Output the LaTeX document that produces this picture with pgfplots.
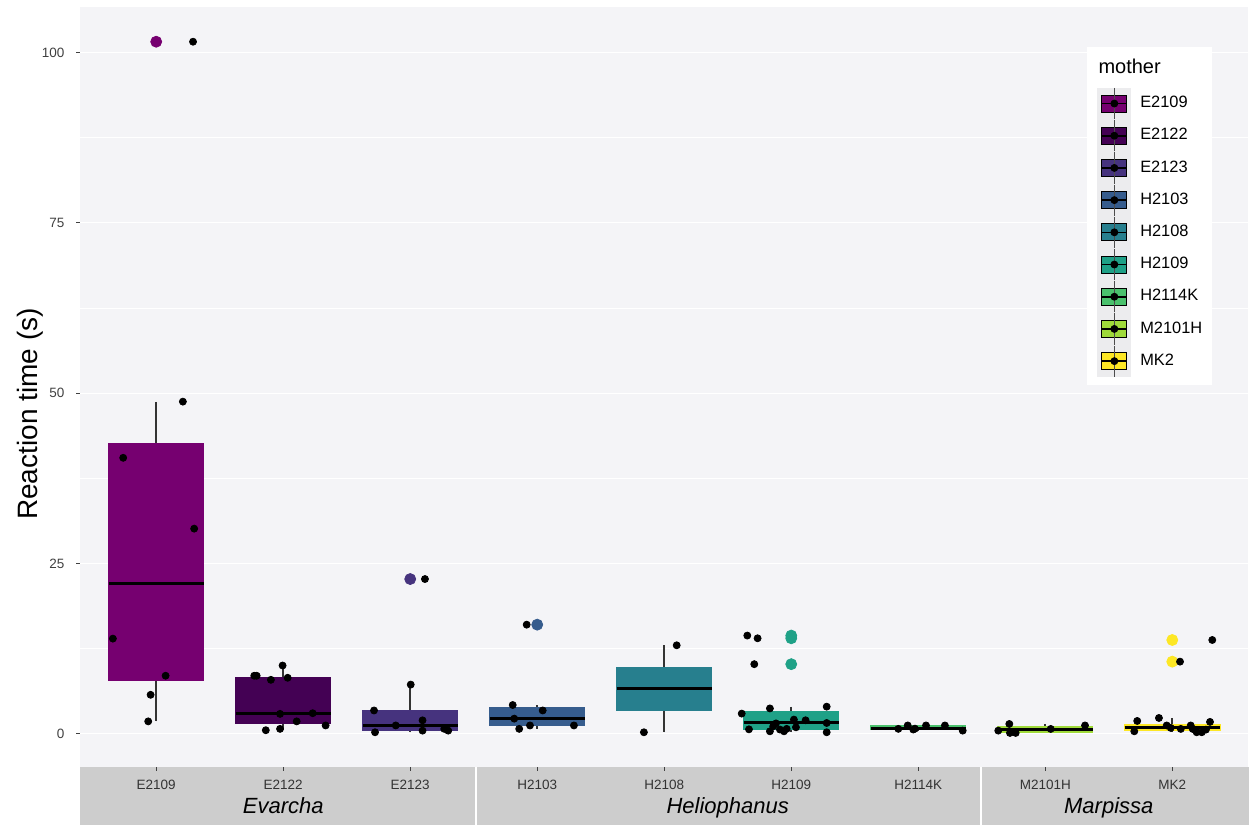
\documentclass[border=0pt]{standalone}
\usepackage{fontspec}
\setmainfont{Liberation Sans}
\usepackage{pgfplots}
\pgfplotsset{compat=1.18}
\usepgfplotslibrary{statistics}

% viridis-like fill per mother
\definecolor{cE2109}{RGB}{118,0,112}
\definecolor{cE2122}{RGB}{68,1,84}
\definecolor{cE2123}{RGB}{70,51,126}
\definecolor{cH2103}{RGB}{54,92,141}
\definecolor{cH2108}{RGB}{39,127,142}
\definecolor{cH2109}{RGB}{31,161,135}
\definecolor{cH2114K}{RGB}{74,193,109}
\definecolor{cM2101H}{RGB}{159,218,58}
\definecolor{cMK2}{RGB}{253,231,37}
\definecolor{panelbg}{RGB}{244,244,247}
\definecolor{stripbg}{RGB}{205,205,205}
\definecolor{keybg}{RGB}{236,236,238}

\pgfplotsset{
  mbox/.style={
    forget plot,
    boxplot/draw direction=y,
    boxplot/box extend=0.75,
    boxplot/whisker extend=0,
    boxplot/every whisker/.style={draw=black!80,line width=0.8pt},
    boxplot/every median/.style={draw=black,line width=1.6pt},
  },
  outl/.style={forget plot,only marks,mark=*,mark size=2.75pt},
  pts/.style={forget plot,only marks,mark=*,mark size=1.75pt,black},
  keyimg/.style={legend image code/.code={
      \fill[keybg] (0pt,-7.8pt) rectangle (16.5pt,7.8pt);
      \fill (2pt,-4.25pt) rectangle (14.4pt,4.25pt);
      \draw[black!70,line width=0.5pt] (8.25pt,-7.8pt) -- (8.25pt,7.8pt);
      \draw[black,line width=0.8pt] (2pt,0pt) -- (14.4pt,0pt);
      \fill[black] (8.25pt,0pt) circle (1.75pt);
  }},
}

\begin{document}
\begin{tikzpicture}
\fill[white] (0,0) rectangle (624.5pt,412.5pt);
\useasboundingbox (0,0) rectangle (624.5pt,412.5pt);
% genus strips under the panel
\fill[stripbg] (40pt,0pt) rectangle (237.65pt,29pt);
\fill[stripbg] (238.5pt,0pt) rectangle (490.15pt,29pt);
\fill[stripbg] (491pt,0pt) rectangle (624.5pt,29pt);

\begin{axis}[
  at={(40pt,29pt)}, anchor=south west,
  scale only axis, width=584.25pt, height=380pt,
  xmin=-0.6, xmax=8.6, ymin=-4.9, ymax=106.7,
  clip mode=individual,
  axis background/.style={fill=panelbg},
  axis line style={draw=none},
  xtick pos=bottom, ytick pos=left,
  xtick={0,1,2,3,4,5,6,7,8},
  xticklabels={E2109,E2122,E2123,H2103,H2108,H2109,H2114K,M2101H,MK2},
  ytick={0,25,50,75,100},
  minor ytick={12.5,37.5,62.5,87.5},
  ymajorgrids, yminorgrids,
  major grid style={white,line width=0.6pt},
  minor grid style={white,line width=0.3pt},
  tick align=outside, major tick length=2pt, minor tick length=0pt,
  tick style={draw=black!75,line width=0.5pt},
  x tick label style={font=\fontsize{6.75}{8}\selectfont,text=black!80,anchor=base,yshift=-9.3pt},
  y tick label style={font=\fontsize{6.75}{8}\selectfont,text=black!75,anchor=east,xshift=-2.25pt},
  /pgf/number format/assume math mode=true,
  ylabel={Reaction time (s)},
  ylabel style={font=\fontsize{14}{16}\selectfont,at={(axis description cs:-0.0428,0.4645)},anchor=center},
  legend style={at={(axis description cs:0.8704,0.8947)},anchor=north west,
    draw=none,fill=none,inner sep=0pt,row sep=0pt,column sep=4.5pt,
    nodes={inner sep=0pt},font=\fontsize{8.2}{9}\selectfont},
  legend cell align=left,
]
% boxes (lower whisker, Q1, median, Q3, upper whisker)
\addplot[mbox,draw=cE2109,fill=cE2109,boxplot prepared={draw position=0,lower whisker=1.8,lower quartile=7.8,median=22.0,upper quartile=42.6,upper whisker=48.7}] coordinates {};
\addplot[mbox,draw=cE2122,fill=cE2122,boxplot prepared={draw position=1,lower whisker=0.5,lower quartile=1.5,median=2.95,upper quartile=8.3,upper whisker=10.0}] coordinates {};
\addplot[mbox,draw=cE2123,fill=cE2123,boxplot prepared={draw position=2,lower whisker=0.2,lower quartile=0.44,median=1.2,upper quartile=3.4,upper whisker=7.2}] coordinates {};
\addplot[mbox,draw=cH2103,fill=cH2103,boxplot prepared={draw position=3,lower whisker=0.7,lower quartile=1.2,median=2.2,upper quartile=3.8,upper whisker=4.2}] coordinates {};
\addplot[mbox,draw=cH2108,fill=cH2108,boxplot prepared={draw position=4,lower whisker=0.2,lower quartile=3.39,median=6.58,upper quartile=9.78,upper whisker=12.97}] coordinates {};
\addplot[mbox,draw=cH2109,fill=cH2109,boxplot prepared={draw position=5,lower whisker=0.2,lower quartile=0.69,median=1.66,upper quartile=3.28,upper whisker=3.96}] coordinates {};
\addplot[mbox,draw=cH2114K,fill=cH2114K,boxplot prepared={draw position=6,lower whisker=0.44,lower quartile=0.6,median=0.73,upper quartile=1.2,upper whisker=1.2}] coordinates {};
\addplot[mbox,draw=cM2101H,fill=cM2101H,boxplot prepared={draw position=7,lower whisker=0.1,lower quartile=0.25,median=0.59,upper quartile=1.07,upper whisker=1.42}] coordinates {};
\addplot[mbox,draw=cMK2,fill=cMK2,boxplot prepared={draw position=8,lower whisker=0.2,lower quartile=0.44,median=0.93,upper quartile=1.42,upper whisker=2.3}] coordinates {};

% boxplot outliers
\addplot[outl,cE2109] coordinates {(0,101.6)};
\addplot[outl,cE2123] coordinates {(2,22.7)};
\addplot[outl,cH2103] coordinates {(3,16.0)};
\addplot[outl,cH2109] coordinates {(5,14.4) (5,14.0) (5,10.2)};
\addplot[outl,cMK2] coordinates {(8,13.75) (8,10.57)};

% jittered observations
\addplot[pts] coordinates {(0.290,101.6) (0.210,48.75) (-0.260,40.5) (0.299,30.1) (-0.341,13.95) (0.074,8.5) (-0.044,5.7) (-0.063,1.8)};
\addplot[pts] coordinates {(0.772,8.5) (0.791,8.5) (0.903,7.9) (0.995,10.0) (1.035,8.2) (0.975,2.9) (1.232,3.0) (1.106,1.8) (1.334,1.2) (0.863,0.5) (0.975,0.7)};
\addplot[pts] coordinates {(2.116,22.7) (2.004,7.2) (1.715,3.4) (1.886,1.2) (2.097,1.95) (1.723,0.2) (2.097,0.44) (2.268,0.7) (2.299,0.44)};
\addplot[pts] coordinates {(2.917,16.0) (2.807,4.2) (3.043,3.4) (2.819,2.2) (2.943,1.2) (3.289,1.2) (2.858,0.7)};
\addplot[pts] coordinates {(4.098,12.97) (3.840,0.2)};
\addplot[pts] coordinates {(4.654,14.4) (4.735,14.0) (4.709,10.2) (4.610,2.94) (4.832,3.7) (5.279,3.96) (4.667,0.63) (4.832,0.34) (4.880,1.5) (4.911,0.6) (4.943,0.34) (4.964,0.7) (5.021,2.06) (5.037,0.93) (5.113,1.96) (5.279,1.56) (5.279,0.2) (4.858,1.07)};
\addplot[pts] coordinates {(5.843,0.7) (5.917,1.2) (5.961,0.6) (5.974,0.73) (6.061,1.2) (6.210,1.2) (6.350,0.44)};
\addplot[pts] coordinates {(6.630,0.44) (6.717,1.42) (6.722,0.1) (6.767,0.1) (7.043,0.69) (7.313,1.2)};
\addplot[pts] coordinates {(8.315,13.75) (8.061,10.57) (7.724,1.86) (7.895,2.3) (7.701,0.34) (7.956,1.2) (7.988,0.84) (8.067,0.69) (8.145,1.2) (8.161,0.69) (8.192,0.2) (8.232,0.2) (8.265,0.59) (8.297,1.72)};

% legend panel and title
\fill[white] (axis cs:7.328,100.88) rectangle (axis cs:8.313,51.25);
\node[anchor=base west,inner sep=0pt,font=\fontsize{10}{12}\selectfont] at (axis cs:7.416,96.9) {mother};

% genus names in the strips
\node[anchor=base,font=\fontsize{11}{13}\selectfont\itshape] at (axis cs:1,-11.75) {Evarcha};
\node[anchor=base,font=\fontsize{11}{13}\selectfont\itshape] at (axis cs:4.5,-11.75) {Heliophanus};
\node[anchor=base,font=\fontsize{11}{13}\selectfont\itshape] at (axis cs:7.5,-11.75) {Marpissa};

\addlegendimage{keyimg,fill=cE2109}\addlegendentry{E2109}
\addlegendimage{keyimg,fill=cE2122}\addlegendentry{E2122}
\addlegendimage{keyimg,fill=cE2123}\addlegendentry{E2123}
\addlegendimage{keyimg,fill=cH2103}\addlegendentry{H2103}
\addlegendimage{keyimg,fill=cH2108}\addlegendentry{H2108}
\addlegendimage{keyimg,fill=cH2109}\addlegendentry{H2109}
\addlegendimage{keyimg,fill=cH2114K}\addlegendentry{H2114K}
\addlegendimage{keyimg,fill=cM2101H}\addlegendentry{M2101H}
\addlegendimage{keyimg,fill=cMK2}\addlegendentry{MK2}
\end{axis}
\end{tikzpicture}
\end{document}
